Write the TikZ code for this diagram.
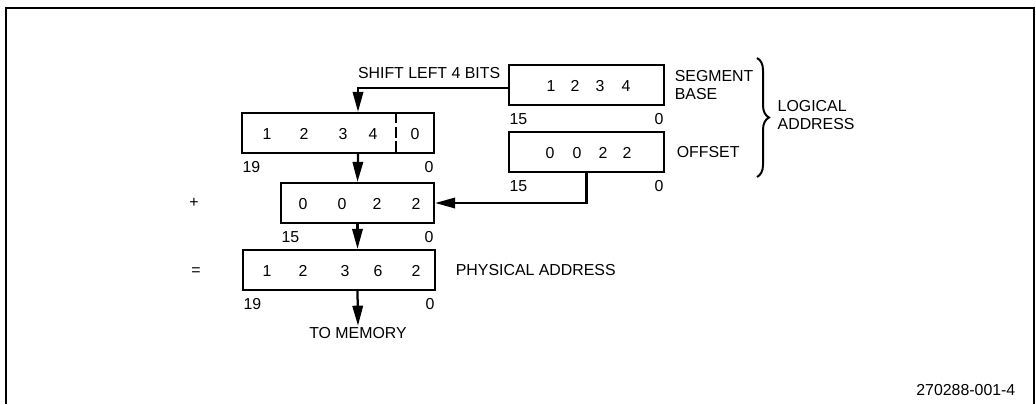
\documentclass[tikz,border=0pt]{standalone}
\usepackage{fontspec}
\setmainfont{Liberation Sans}
\usetikzlibrary{arrows.meta,positioning,decorations.pathreplacing}

\begin{document}
\begin{tikzpicture}[
  x=0.025cm, y=-0.025cm,
  register/.style={
    draw=black,
    line width=1.6pt,
    minimum height=1cm,
    inner sep=0pt
  },
  digit/.style={inner sep=0pt, font=\fontsize{11.3}{12.8}\selectfont},
  lbl/.style={inner sep=1pt, align=left, font=\fontsize{11.3}{12.8}\selectfont},
  bit/.style={inner sep=1pt, font=\fontsize{11.3}{12.8}\selectfont},
  flow/.style={-{Triangle[length=5mm,width=2.6mm]}, line width=1.6pt},
  frame/.style={line width=1.2pt},
  bracket/.style={decorate, decoration={brace, amplitude=0.3cm}, line width=1.4pt}
]
\useasboundingbox (0,0) rectangle (1036,404);
\draw[frame] (6,404) -- (6,8) -- (1034,8) -- (1034,404);

% logical address
\node[register, minimum width=3.875cm] (base) at (586.5,85) {};
\foreach \x/\d [count=\i] in {551/1,575/2,600/3,626/4}
  \node[digit] (base-\i) at (\x,86) {\d};
\node[bit, anchor=north west] (base-hi) at ([yshift=-0.15cm]base.south west) {15};
\node[bit, anchor=north east] (base-lo) at ([yshift=-0.15cm]base.south east) {0};
\node[lbl, anchor=west] (base-name) at ([xshift=0.2cm]base.east) {SEGMENT\\BASE};

\node[register, minimum width=3.875cm] (offset) at (586.5,152) {};
\foreach \x/\d [count=\i] in {550/0,577/0,603/2,627/2}
  \node[digit] (offset-\i) at (\x,153) {\d};
\node[bit, anchor=north west] (offset-hi) at ([yshift=-0.15cm]offset.south west) {15};
\node[bit, anchor=north east] (offset-lo) at ([yshift=-0.15cm]offset.south east) {0};
\node[lbl, anchor=west] (offset-name) at ([xshift=0.25cm]offset.east) {OFFSET};

\coordinate (ltop) at (757,58);
\coordinate (lbot) at (757,177);
\draw[bracket] (ltop) -- (lbot);
\node[lbl, anchor=west] (logical) at (776,115) {LOGICAL\\ADDRESS};

% shifted segment
\node[register, minimum width=4.8cm] (shifted) at (338,133) {};
\foreach \x/\d [count=\i] in {267/1,304/2,343/3,373/4,415/0}
  \node[digit] (shifted-\i) at (\x,134) {\d};
\draw[line width=1.6pt, dash pattern=on 8pt off 2.5pt]
  ([xshift=3.875cm]shifted.north west) -- ([xshift=3.875cm]shifted.south west);
\node[bit, anchor=north west] (shifted-hi) at ([yshift=-0.15cm]shifted.south west) {19};
\node[bit, anchor=north east] (shifted-lo) at ([yshift=-0.15cm]shifted.south east) {0};

\draw[flow] ([yshift=-0.075cm]base.west) -| ([xshift=0.5cm]shifted.north);
\node[lbl, anchor=east] (shift) at ([xshift=-0.15cm,yshift=0.3cm]base.west) {SHIFT LEFT 4 BITS};

% offset added
\node[register, minimum width=3.825cm] (addend) at (357.5,203) {};
\foreach \x/\d [count=\i] in {303/0,342/0,377/2,416/2}
  \node[digit] (addend-\i) at (\x,204) {\d};
\node[bit, anchor=north west] (addend-hi) at ([yshift=-0.15cm]addend.south west) {15};
\node[bit, anchor=north east] (addend-lo) at ([yshift=-0.15cm]addend.south east) {0};
\node[lbl] (plus) at (194,203) {+};

\draw[flow] ([xshift=0.5cm]shifted.south) -- (addend.north);
\draw[flow] (offset.south) |- (addend.east);

% physical address
\node[register, minimum width=4.8cm] (physical) at (339,270) {};
\foreach \x/\d [count=\i] in {267/1,303/2,345/3,378/6,416/2}
  \node[digit] (physical-\i) at (\x,271) {\d};
\node[bit, anchor=north west] (physical-hi) at ([yshift=-0.15cm]physical.south west) {19};
\node[bit, anchor=north east] (physical-lo) at ([yshift=-0.15cm]physical.south east) {0};
\node[lbl] (equals) at (196,272) {=};
\node[lbl, anchor=west] (physical-name) at ([xshift=0.45cm]physical.east) {PHYSICAL ADDRESS};

\draw[flow] (addend.south) -- (addend.south |- physical.north);

\node[lbl] (memory) at (358,333) {TO MEMORY};
\draw[flow] (addend.south |- physical.south) -- (memory.north);

\node[lbl, anchor=east] (figid) at (1017,390) {270288-001-4};

\end{tikzpicture}
\end{document}
